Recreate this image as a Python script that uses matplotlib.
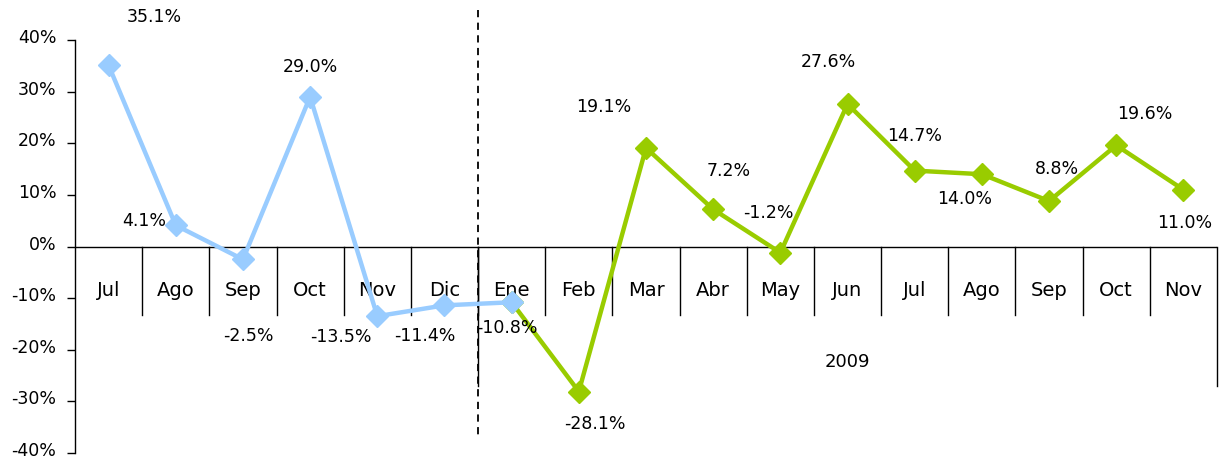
import matplotlib.pyplot as plt
import matplotlib.transforms as mtransforms

# data
months = ["Jul", "Ago", "Sep", "Oct", "Nov", "Dic", "Ene", "Feb", "Mar",
          "Abr", "May", "Jun", "Jul", "Ago", "Sep", "Oct", "Nov"]
serie_2008 = [35.1, 4.1, -2.5, 29.0, -13.5, -11.4, -10.8]
serie_2009 = [-10.8, -28.1, 19.1, 7.2, -1.2, 27.6, 14.7, 14.0, 8.8, 19.6, 11.0]
year_label = "2009"

# label offsets in pixels (dx, dy)
off_2008 = [(46, 48), (-32, 4), (5, -77), (0, 30), (-36, -21), (-20, -31), (-5, -26)]
off_2009 = [(-5, -26), (16, -32), (-42, 41), (16, 38), (-12, 40), (-19, 42),
            (0, 35), (-17, -25), (8, 32), (29, 31), (1, -33)]

blue = "#99CCFF"
green = "#99CC00"

fig = plt.figure(figsize=(12.19, 4.58), dpi=100)
ax = fig.add_axes([75/1219, 1-453/458, (1217-75)/1219, (453-40)/458])

x1 = list(range(len(serie_2008)))
x2 = list(range(6, 6 + len(serie_2009)))

ax.plot(x2, serie_2009, color=green, lw=3.2, marker="D", ms=11.5, zorder=3)
ax.plot(x1, serie_2008, color=blue, lw=3.2, marker="D", ms=11.5, zorder=4)

for xs, vals, offs in [(x1[:-1], serie_2008[:-1], off_2008[:-1]), (x2, serie_2009, off_2009)]:
    for xi, v, (dx, dy) in zip(xs, vals, offs):
        ax.annotate(f"{v:.1f}%", (xi, v), xytext=(dx, dy), textcoords="offset pixels",
                    ha="center", va="center", fontsize=12.5, zorder=5)

ax.set_xlim(-0.5, len(months) - 0.5)
ax.set_ylim(-40, 40)
ax.set_yticks(range(-40, 41, 10))
ax.set_yticklabels([f"{t}%" for t in range(-40, 41, 10)], fontsize=12.5)
ax.tick_params(axis="y", direction="out", length=5.5, width=1, pad=8)
shift = mtransforms.ScaledTranslation(0, 4/100, fig.dpi_scale_trans)
for lab in ax.get_yticklabels():
    lab.set_transform(lab.get_transform() + shift)
ax.set_xticks([])

for s in ["top", "right", "bottom"]:
    ax.spines[s].set_visible(False)
ax.spines["left"].set_linewidth(1)

# category axis drawn at zero
ax.axhline(0, color="black", lw=1, zorder=2)
for k in range(1, len(months)):
    ax.plot([k - 0.5, k - 0.5], [0, -13.2], color="black", lw=1, zorder=2)
for i, m in enumerate(months):
    ax.text(i, -8.5, m, ha="center", va="center", fontsize=14)

# year group
ax.plot([5.5, 5.5], [0, -27.1], color="black", lw=1, zorder=2)
ax.plot([16.5, 16.5], [0, -27.1], color="black", lw=1, zorder=2, clip_on=False)
ax.text(11, -22.3, year_label, ha="center", va="center", fontsize=13)

# dashed divider
ax.plot([5.5, 5.5], [45.9, -36.8], color="black", lw=1.3, ls=(0, (4, 3)),
        zorder=2, clip_on=False)

fig.savefig("out.png", dpi=100)
